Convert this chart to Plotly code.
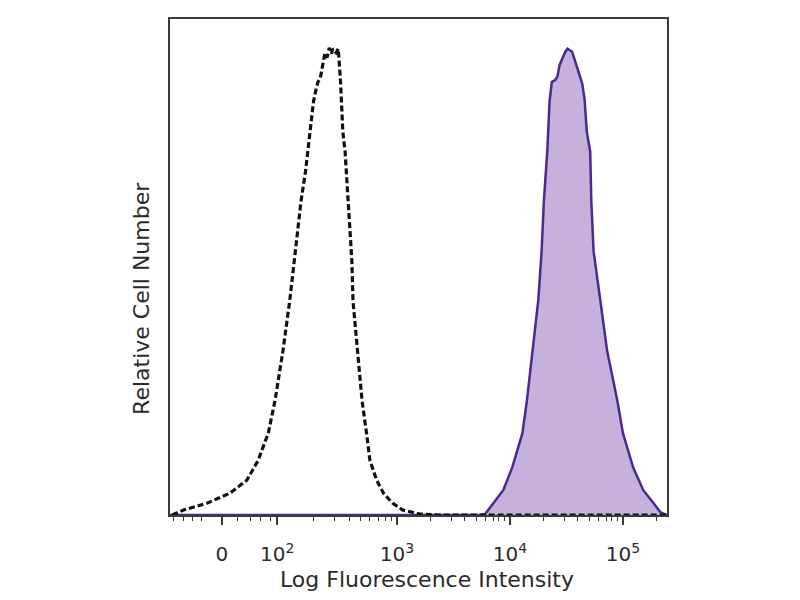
import plotly.graph_objects as go

# x positions in transformed (biexponential display) units: 10^3 -> 3, 10^4 -> 4, 10^5 -> 5
isotype_x = [1.01, 1.11, 1.32, 1.52, 1.67, 1.77, 1.86, 1.92, 1.99, 2.05, 2.10, 2.15, 2.19, 2.23,
             2.26, 2.28, 2.30, 2.32, 2.34, 2.36, 2.38, 2.40, 2.42, 2.43, 2.46, 2.48, 2.50, 2.52,
             2.54, 2.56, 2.58, 2.60, 2.61, 2.65, 2.69, 2.73, 2.76, 2.82, 2.88, 2.96, 3.05, 3.20,
             3.38, 3.91, 4.80, 5.38]
isotype_y = [0.0, 1.0, 2.4, 4.4, 7.0, 11.0, 16.5, 23.1, 33.1, 43.2, 53.2, 63.3, 69.3, 77.3,
             83.3, 85.5, 87.3, 88.0, 90.8, 93.0, 92.2, 94.2, 93.0, 94.0, 93.2, 94.0, 87.3, 77.3,
             73.3, 65.3, 57.2, 51.2, 43.2, 33.1, 23.1, 16.5, 11.0, 7.0, 4.4, 2.4, 1.0, 0.2,
             0.0, 0.0, 0.0, 0.0]

stained_x = [0.99, 3.74, 3.78, 3.85, 3.94, 4.02, 4.11, 4.15, 4.20, 4.25, 4.28, 4.30, 4.33, 4.34,
             4.35, 4.37, 4.40, 4.42, 4.44, 4.49, 4.51, 4.55, 4.59, 4.62, 4.64, 4.66, 4.68, 4.71,
             4.72, 4.74, 4.80, 4.86, 4.95, 5.00, 5.09, 5.18, 5.27, 5.33, 5.39]
stained_y = [0.0, 0.0, 0.2, 2.4, 5.0, 9.6, 16.5, 23.1, 33.1, 43.2, 53.2, 63.3, 73.3, 77.3,
             83.3, 87.3, 87.7, 88.4, 90.8, 93.4, 94.0, 93.4, 90.8, 88.4, 86.9, 83.9, 77.3, 73.3,
             63.3, 53.2, 43.2, 33.1, 23.1, 16.5, 9.6, 5.0, 2.4, 0.6, 0.0]

major_tick_pos = [1.45, 1.94, 3.0, 4.0, 5.0]
major_tick_text = ["0", "10<sup>2</sup>", "10<sup>3</sup>", "10<sup>4</sup>", "10<sup>5</sup>"]
minor_tick_pos = [1.02, 1.11, 1.19, 1.27, 1.59, 1.70, 1.79, 1.88,
                  2.26, 2.45, 2.58, 2.68, 2.76, 2.84, 2.90, 2.95,
                  3.30, 3.48, 3.60, 3.70, 3.78, 3.85, 3.90, 3.95,
                  4.30, 4.48, 4.60, 4.70, 4.78, 4.85, 4.90, 4.95, 5.30]

fig = go.Figure()
fig.add_trace(go.Scatter(
    x=stained_x, y=stained_y, mode="lines", fill="tozeroy",
    fillcolor="#c6b1dc", line=dict(color="#4a2a8c", width=2.5), showlegend=False))
fig.add_trace(go.Scatter(
    x=isotype_x, y=isotype_y, mode="lines",
    line=dict(color="#111111", width=3.2, dash="6px,3px"), showlegend=False))

font_family = "DejaVu Sans, sans-serif"
# page body has an 8px default margin; margins compensate for it
fig.update_layout(
    width=800, height=600,
    margin=dict(l=162, r=141, t=9, b=93),
    paper_bgcolor="white", plot_bgcolor="white",
    font=dict(family=font_family, color="#2a2a2a"),
    xaxis=dict(
        range=[0.99, 5.39], showgrid=False, zeroline=False,
        showline=True, mirror=True, linecolor="#3a3a3a", linewidth=2,
        tickmode="array", tickvals=major_tick_pos, ticktext=major_tick_text,
        ticks="outside", ticklen=8, tickwidth=1.5, tickcolor="#3a3a3a",
        ticklabelstandoff=12,
        tickfont=dict(size=20, color="#2a2a2a"),
        minor=dict(tickmode="array", tickvals=minor_tick_pos, ticks="outside",
                   ticklen=4, tickwidth=1.2, tickcolor="#3a3a3a"),
    ),
    yaxis=dict(
        range=[0, 100], showgrid=False, zeroline=False,
        showline=True, mirror=True, linecolor="#3a3a3a", linewidth=2,
        showticklabels=False, ticks="",
    ),
    annotations=[
        dict(text="Log Fluorescence Intensity", xref="paper", yref="paper",
             x=0.517, y=-0.131, xanchor="center", yanchor="middle", showarrow=False,
             font=dict(size=22, color="#2a2a2a", family=font_family)),
        dict(text="Relative Cell Number", xref="paper", yref="paper",
             x=-0.056, y=0.436, xanchor="center", yanchor="middle", showarrow=False,
             textangle=-90, font=dict(size=22, color="#2a2a2a", family=font_family)),
    ],
)

fig.write_html("out.html")
